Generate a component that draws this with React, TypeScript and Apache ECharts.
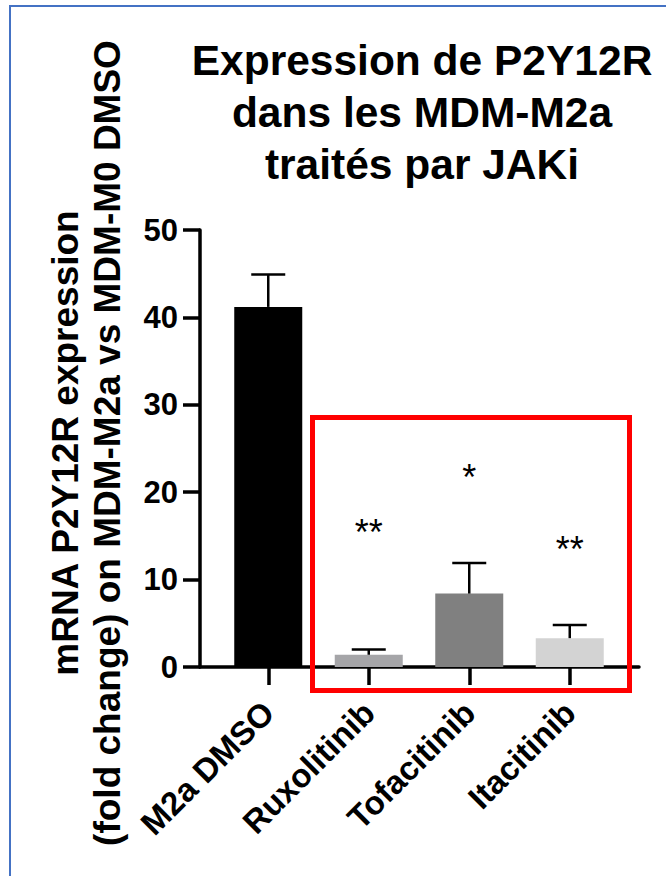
import React, { useEffect, useRef } from 'react';
import * as echarts from 'echarts';

const categories = ['M2a DMSO', 'Ruxolitinib', 'Tofacitinib', 'Itacitinib'];
const means = [41.2, 1.4, 8.4, 3.3];
const errUpper = [44.9, 2.0, 11.9, 4.8];
const barColors = ['#000000', '#A5A5A8', '#808080', '#D3D3D3'];
const sigLabels = ['', '**', '*', '**'];
const sigY = [0, 15.4, 21.7, 13.5];
const yMin = 0;
const yMax = 50;
const yInterval = 10;
const titleText = 'Expression de P2Y12R\ndans les MDM-M2a\ntraités par JAKi';
const yTitleText = 'mRNA P2Y12R expression\n(fold change) on MDM-M2a vs MDM-M0 DMSO';

const FONT = '"Liberation Sans", Arial, Helvetica, sans-serif';

export default function App() {
  const ref = useRef<HTMLDivElement>(null);
  useEffect(() => {
    if (!ref.current) return;
    const chart = echarts.init(ref.current, null, { renderer: 'svg' });
    const option: any = {
      animation: false,
      backgroundColor: '#ffffff',
      grid: [
        { left: 200, top: 230, width: 439, height: 437, containLabel: false },
        { left: 218, top: 230, width: 402, height: 437, containLabel: false },
      ],
      xAxis: [
        {
          gridIndex: 0,
          type: 'value',
          min: 0,
          max: 1,
          axisLine: { show: true, lineStyle: { color: '#000', width: 3.5 } },
          axisTick: { show: false },
          axisLabel: { show: false },
          splitLine: { show: false },
        },
        {
          gridIndex: 1,
          type: 'category',
          data: categories,
          axisLine: { show: false },
          axisTick: { show: true, alignWithLabel: true, length: 18, lineStyle: { color: '#000', width: 3.5 } },
          axisLabel: {
            interval: 0,
            rotate: 45,
            margin: 40,
            color: '#000',
            fontFamily: FONT,
            fontWeight: 'bold',
            fontSize: 33,
          },
          splitLine: { show: false },
        },
      ],
      yAxis: [
        {
          gridIndex: 0,
          type: 'value',
          min: yMin,
          max: yMax,
          interval: yInterval,
          axisLine: { show: true, lineStyle: { color: '#000', width: 3.5 } },
          axisTick: { show: true, inside: false, length: 17, lineStyle: { color: '#000', width: 3.5 } },
          axisLabel: {
            margin: 22,
            color: '#000',
            fontFamily: FONT,
            fontWeight: 'bold',
            fontSize: 31,
          },
          splitLine: { show: false },
        },
        {
          gridIndex: 1,
          type: 'value',
          min: yMin,
          max: yMax,
          show: false,
          splitLine: { show: false },
        },
      ],
      series: [
        {
          type: 'bar',
          xAxisIndex: 1,
          yAxisIndex: 1,
          barWidth: 68,
          data: means.map((v, i) => ({ value: v, itemStyle: { color: barColors[i] } })),
          z: 2,
        },
        {
          type: 'custom',
          xAxisIndex: 1,
          yAxisIndex: 1,
          z: 3,
          data: means.map((m, i) => [i, m, errUpper[i]]),
          encode: { x: 0, y: [1, 2] },
          renderItem: (params: any, api: any) => {
            const i = api.value(0);
            const p0 = api.coord([i, api.value(1)]);
            const p1 = api.coord([i, api.value(2)]);
            const half = 17;
            const st = { stroke: '#000', lineWidth: 2.5 };
            return {
              type: 'group',
              children: [
                { type: 'line', shape: { x1: p0[0], y1: p0[1], x2: p1[0], y2: p1[1] }, style: st },
                { type: 'line', shape: { x1: p1[0] - half, y1: p1[1], x2: p1[0] + half, y2: p1[1] }, style: st },
              ],
            };
          },
        },
        {
          type: 'custom',
          xAxisIndex: 1,
          yAxisIndex: 1,
          z: 4,
          data: sigY.map((y, i) => [i, y]),
          renderItem: (params: any, api: any) => {
            const i = api.value(0);
            const label = sigLabels[i];
            if (!label) return null;
            const p = api.coord([i, api.value(1)]);
            return {
              type: 'text',
              x: p[0],
              y: p[1],
              style: {
                text: label,
                fill: '#000',
                font: `normal 36px ${FONT}`,
                align: 'center',
                verticalAlign: 'middle',
              },
            };
          },
        },
      ],
      graphic: [
        { type: 'line', shape: { x1: 10, y1: 5, x2: 10, y2: 876 }, style: { stroke: '#4472C4', lineWidth: 2 } },
        { type: 'line', shape: { x1: 9, y1: 6, x2: 666, y2: 6 }, style: { stroke: '#4472C4', lineWidth: 2 } },
        {
          type: 'text',
          x: 422,
          y: 34,
          style: {
            text: titleText,
            fill: '#000',
            font: `bold 42.5px ${FONT}`,
            lineHeight: 52,
            align: 'center',
            verticalAlign: 'top',
          },
        },
        {
          type: 'text',
          x: 86,
          y: 443,
          rotation: Math.PI / 2,
          style: {
            text: yTitleText,
            fill: '#000',
            font: `bold 37px ${FONT}`,
            lineHeight: 42,
            align: 'center',
            verticalAlign: 'middle',
          },
        },
        {
          type: 'rect',
          shape: { x: 312.5, y: 417.5, width: 317, height: 273 },
          style: { fill: 'none', stroke: '#FF0000', lineWidth: 5 },
          z: 100,
        },
      ],
    };
    chart.setOption(option);
    return () => chart.dispose();
  }, []);
  return (
    <div
      ref={ref}
      style={{ position: 'absolute', left: 0, top: 0, width: 666, height: 876, background: '#fff' }}
    />
  );
}
